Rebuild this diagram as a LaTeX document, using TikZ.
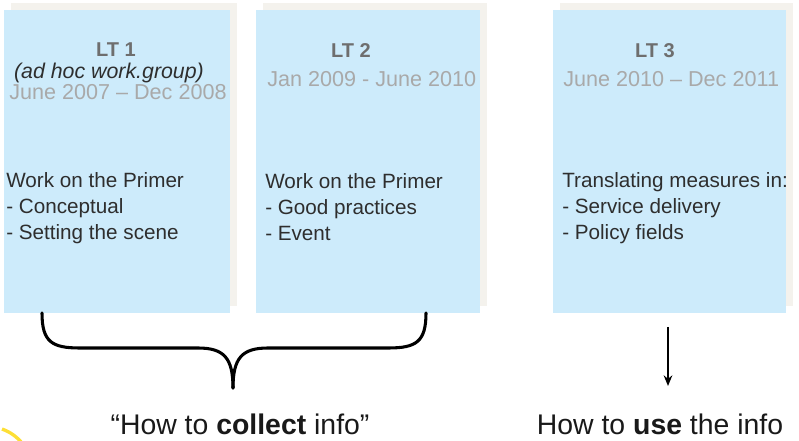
\documentclass[tikz,border=0pt]{standalone}
\usepackage{fontspec}
\setmainfont{Liberation Sans}
\usetikzlibrary{arrows.meta}

\definecolor{ltblue}{HTML}{CDEBFB}
\definecolor{ltshade}{HTML}{F4F2ED}
\definecolor{ltgrey}{HTML}{6E6E6E}
\definecolor{ltdate}{HTML}{A9A9A9}
\definecolor{lttext}{HTML}{2E2E2E}

\tikzset{
  ltbox/.style={rectangle, fill=ltblue, inner sep=0pt, anchor=north west},
  ltback/.style={rectangle, fill=ltshade, inner sep=0pt, anchor=north west},
  lttitle/.style={anchor=base, inner sep=0pt, text=ltgrey, font=\fontsize{15}{18}\selectfont\bfseries},
  ltdates/.style={anchor=base west, inner sep=0pt, text=ltdate, font=\fontsize{16.2}{19}\selectfont},
  ltbody/.style={anchor=north west, inner sep=0pt, align=left, text=lttext, font=\fontsize{15.5}{19.6}\selectfont},
  ltfoot/.style={anchor=base, inner sep=0pt, text=black!90, font=\fontsize{21.3}{24}\selectfont}
}

\begin{document}
\begin{tikzpicture}[x=0.75pt,y=-0.75pt]
        \useasboundingbox (0,0) rectangle (799,441);

        \begin{scope}
          \node[ltback, minimum width=226pt*0.75, minimum height=303pt*0.75] (s1) at (11,3)  {};
          \node[ltback, minimum width=224pt*0.75, minimum height=303pt*0.75] (s2) at (263,3) {};
          \node[ltback, minimum width=233pt*0.75, minimum height=303pt*0.75] (s3) at (560,3) {};
          \node[ltbox, minimum width=226pt*0.75, minimum height=303pt*0.75] (b1) at (4,10)   {};
          \node[ltbox, minimum width=224pt*0.75, minimum height=303pt*0.75] (b2) at (256,10) {};
          \node[ltbox, minimum width=233pt*0.75, minimum height=303pt*0.75] (b3) at (553,10) {};
        \end{scope}

        \node[lttitle] (t1) at (116,57) {LT 1};
        \node[lttitle] (t2) at (351,58) {LT 2};
        \node[lttitle] (t3) at (655,58) {LT 3};

        \node[anchor=base, inner sep=0pt, text=lttext, font=\fontsize{16}{18}\selectfont\itshape] (g1) at (109,79) {(ad hoc work.group)};

        \node[ltdates] (d1) at (9,100)  {June 2007 -- Dec 2008};
        \node[ltdates] (d2) at (267,87) {Jan 2009 - June 2010};
        \node[ltdates] (d3) at (563,87) {June 2010 -- Dec 2011};

        \node[ltbody] (w1) at (6,172)   {Work on the Primer\\- Conceptual\\- Setting the scene};
        \node[ltbody] (w2) at (265,173) {Work on the Primer\\- Good practices\\- Event};
        \node[ltbody] (w3) at (562,172) {Translating measures in:\\- Service delivery\\- Policy fields};

        \node[ltfoot] (collect) at (240,434) {``How to \textbf{collect} info''};
        \node[ltfoot] (use)     at (660,434) {How to \textbf{use} the info};

        \coordinate (bl) at (42,313);
        \coordinate (br) at (426,313);
        \coordinate (bt) at (233,388);
        \draw[line width=2.3pt, line cap=round]
          (bl) .. controls (42,342) and (52,348) .. (80,348) -- (198,348)
               .. controls (224,348) and (233,358) .. (bt);
        \draw[line width=2.3pt, line cap=round]
          (br) .. controls (426,342) and (416,348) .. (388,348) -- (268,348)
               .. controls (242,348) and (233,358) .. (bt);

        \coordinate (a1) at (668,327);
        \coordinate (a2) at (668,386);
        \draw[line width=1.2pt, -{Stealth[length=8pt,width=6.5pt]}] (a1) -- (a2);

        \draw[color=yellow!75!orange, line width=2.5pt, opacity=.8] (2,429) .. controls (10,432) and (16,436) .. (22,443);

      \end{tikzpicture}
\end{document}
